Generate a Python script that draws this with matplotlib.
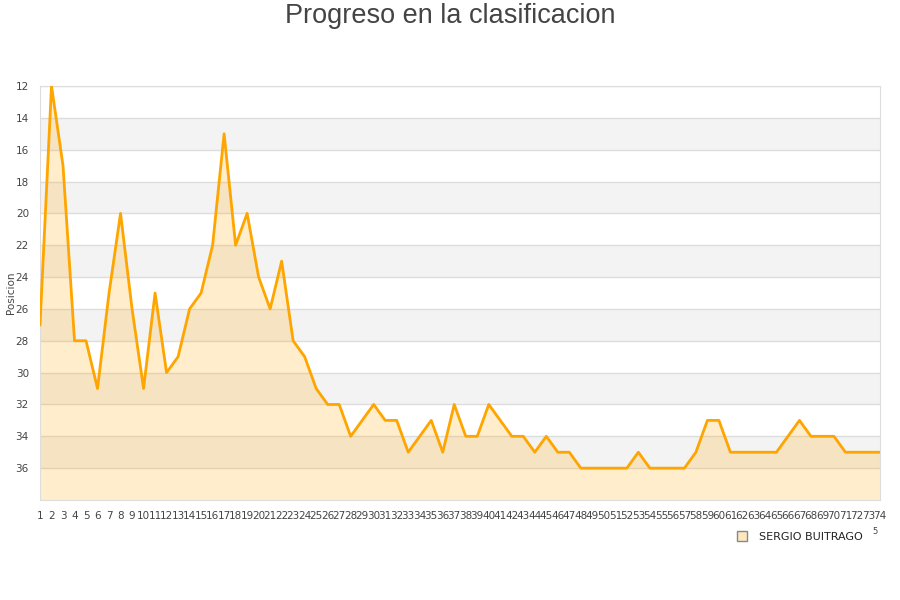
import matplotlib
matplotlib.use("Agg")
import matplotlib.pyplot as plt
from matplotlib.lines import Line2D

# jornadas y posicion en la clasificacion
jornadas = list(range(1, 75))
posicion = [27, 12, 17, 28, 28, 31, 25, 20, 26, 31,
            25, 30, 29, 26, 25, 22, 15, 22, 20, 24,
            26, 23, 28, 29, 31, 32, 32, 34, 33, 32,
            33, 33, 35, 34, 33, 35, 32, 34, 34, 32,
            33, 34, 34, 35, 34, 35, 35, 36, 36, 36,
            36, 36, 35, 36, 36, 36, 36, 35, 33, 33,
            35, 35, 35, 35, 35, 34, 33, 34, 34, 34,
            35, 35, 35, 35]
jugador = "SERGIO BUITRAGO"
y_ticks = list(range(12, 38, 2))

fig = plt.figure(figsize=(9, 6), dpi=100)
ax = fig.add_axes([40/900, 1-500/600, 840/900, 414/600])

# bandas alternas de fondo
for y0 in range(14, 38, 4):
    ax.axhspan(y0, y0 + 2, color="#f3f3f3", zorder=0, lw=0)
for y in y_ticks:
    ax.axhline(y, color="#dddddd", lw=1, zorder=1)

ax.fill_between(jornadas, posicion, 38, color="#ffa500", alpha=0.2, lw=0, zorder=2)
ax.plot(jornadas, posicion, color="#ffa500", lw=2, zorder=3)

ax.set_xlim(1, 74)
ax.set_ylim(38, 12)
ax.set_xticks(jornadas)
ax.set_xticklabels([str(j) for j in jornadas])
ax.set_yticks(y_ticks)
ax.tick_params(axis="both", length=0, labelsize=7.5, colors="#444444", pad=8)
for s in ax.spines.values():
    s.set_color("#dddddd")

ax.set_ylabel("Posicion", fontsize=7.5, color="#444444", labelpad=0)
fig.text(0.5, 1-16/600, "Progreso en la clasificacion", ha="center", va="center",
         fontsize=19.5, color="#444444", family="Liberation Sans")

handle = Line2D([], [], marker="s", linestyle="none", markerfacecolor="#fde8c0",
                markeredgecolor="#888888", markersize=7)
fig.legend([handle], [jugador], loc="center", bbox_to_anchor=(797/900, 1-537/600),
           frameon=False, fontsize=8, handletextpad=0.5, labelcolor="#222222")
fig.text(875/900, 1-532/600, "5", fontsize=6, color="#444444", ha="center", va="center")

fig.savefig("out.png", dpi=100)
